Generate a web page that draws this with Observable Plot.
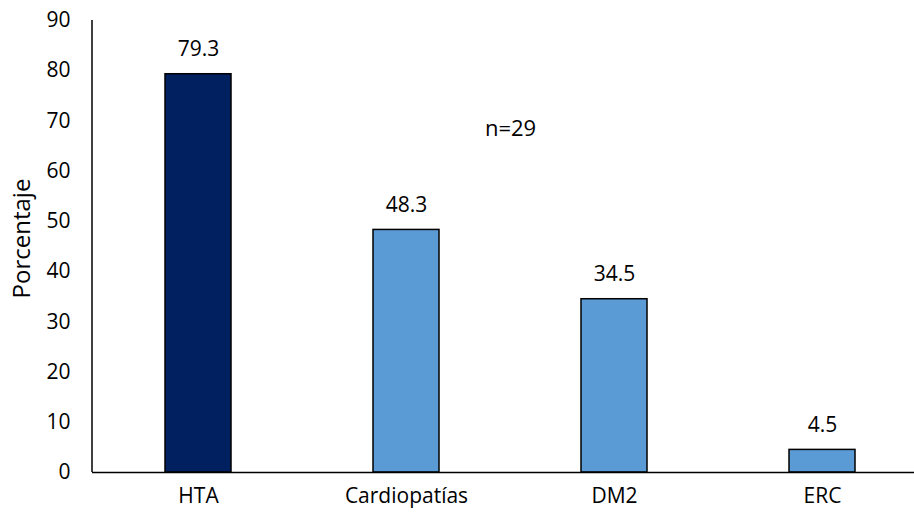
<!DOCTYPE html>
<html>
<head>
<meta charset="utf-8">
<script src="https://cdn.jsdelivr.net/npm/d3@7"></script>
<script src="https://cdn.jsdelivr.net/npm/@observablehq/plot@0.6"></script>
<style>
  html, body { margin: 0; padding: 0; background: #fff; }
  #chart { width: 914px; height: 514px; }
</style>
</head>
<body>
<div id="chart"></div>
<script>
const categories = ["HTA", "Cardiopatías", "DM2", "ERC"];
const values = [79.3, 48.3, 34.5, 4.5];
const barColors = ["#002060", "#5B9BD5", "#5B9BD5", "#5B9BD5"];
const yTicks = [0, 10, 20, 30, 40, 50, 60, 70, 80, 90];
const yLabel = "Porcentaje";
const note = "n=29";
const noteAnchor = {category: "Cardiopatías", value: 68.5};

const data = categories.map((c, i) => ({category: c, value: values[i], color: barColors[i]}));
const font = "'Open Sans', sans-serif";

const chart = Plot.plot({
  width: 914,
  height: 514,
  marginLeft: 92,
  marginRight: 0,
  marginTop: 20,
  marginBottom: 42,
  style: {fontFamily: font, fontSize: "21px", color: "#000", background: "#fff"},
  x: {domain: categories, range: [92.65, 927.45], paddingInner: 0.684, paddingOuter: 0.342, label: null},
  y: {domain: [0, 90], ticks: yTicks, label: null},
  marks: [
    Plot.barY(data, {x: "category", y: "value", fill: "color", stroke: "#000", strokeWidth: 1.5}),
    Plot.text(data, {x: "category", y: "value", text: d => d.value.toFixed(1), dy: -25, fontSize: 21, fill: "#000"}),
    Plot.text([noteAnchor], {x: "category", y: "value", text: () => note, dx: 104, fontSize: 22, fill: "#000"}),
    Plot.axisY({ticks: yTicks, tickSize: 0, tickPadding: 22, fontSize: 21, label: null}),
    Plot.axisX({tickSize: 0, tickPadding: 16, fontSize: 21, label: null}),
    Plot.ruleY([0], {stroke: "#000", strokeWidth: 1.5}),
    Plot.text([yLabel], {frameAnchor: "left", textAnchor: "middle", rotate: -90, dx: -70, dy: -8, fontSize: 24, fill: "#000"})
  ]
});

document.getElementById("chart").appendChild(chart);
d3.select(chart).append("line")
  .attr("x1", 92).attr("x2", 92)
  .attr("y1", 20).attr("y2", 472)
  .attr("stroke", "#000").attr("stroke-width", 1.5);
</script>
</body>
</html>
